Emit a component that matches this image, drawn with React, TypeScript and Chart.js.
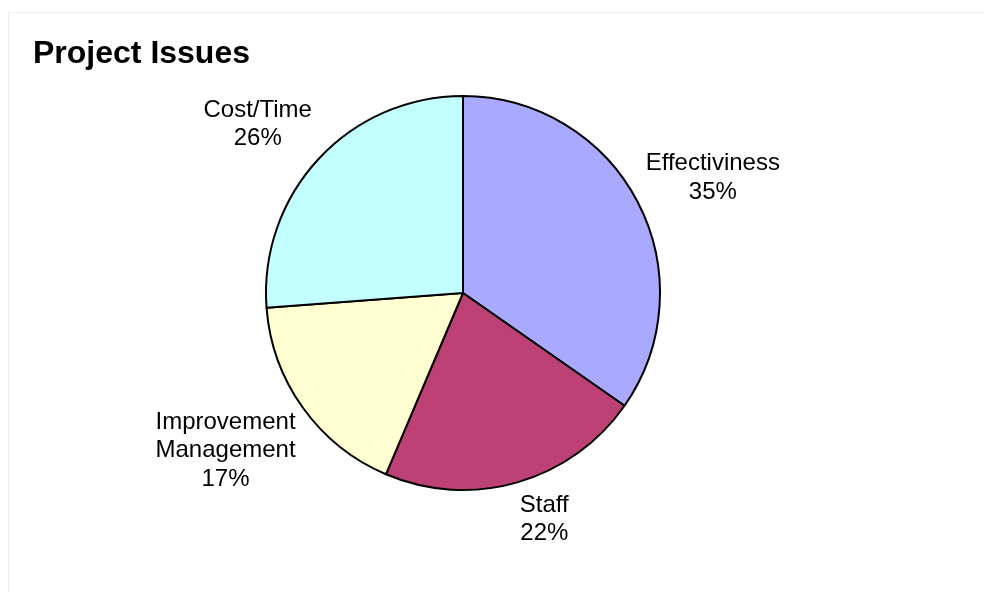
import React, { useEffect, useRef } from "react";
import Chart from "chart.js/auto";

const categories: string[][] = [["Effectiviness"], ["Staff"], ["Improvement", "Management"], ["Cost/Time"]];
const values: number[] = [34.7, 21.7, 17.4, 26.2];
const colors: string[] = ["#a9a9ff", "#be4176", "#ffffd2", "#c4ffff"];
const titleText = "Project Issues";

const FONT = "'Liberation Sans', Arial, Helvetica, sans-serif";

const outsideLabels = {
  id: "outsideLabels",
  afterDatasetsDraw(chart: any) {
    const ctx = chart.ctx;
    const meta = chart.getDatasetMeta(0);
    const total = values.reduce((a, b) => a + b, 0);
    const fontSize = 24;
    const lineH = 28.5;
    const gap = 9;
    ctx.save();
    ctx.font = `${fontSize}px ${FONT}`;
    ctx.fillStyle = "#000";
    ctx.textAlign = "center";
    ctx.textBaseline = "middle";
    meta.data.forEach((arc: any, i: number) => {
      const { x, y, startAngle, endAngle, outerRadius } = arc.getProps(
        ["x", "y", "startAngle", "endAngle", "outerRadius"],
        true
      );
      const mid = (startAngle + endAngle) / 2;
      const dx = Math.cos(mid);
      const dy = Math.sin(mid);
      const pct = Math.round((values[i] / total) * 100) + "%";
      const lines = [...categories[i], pct];
      const w = Math.max(...lines.map((l) => ctx.measureText(l).width));
      const h = lines.length * lineH;
      const ax = x + dx * (outerRadius + gap);
      const ay = y + dy * (outerRadius + gap);
      const cx = ax + Math.sign(dx) * (w / 2);
      const cy = ay + Math.sign(dy) * (h / 2) * Math.min(1, Math.abs(dy) * 1.5);
      lines.forEach((l, k) => {
        ctx.fillText(l, cx, cy - h / 2 + lineH * (k + 0.5));
      });
    });
    ctx.restore();
  },
};

export default function App() {
  const ref = useRef<HTMLCanvasElement | null>(null);
  useEffect(() => {
    if (!ref.current) return;
    const chart = new Chart(ref.current, {
      type: "pie",
      data: {
        labels: categories.map((c) => c.join(" ")),
        datasets: [
          {
            data: values,
            backgroundColor: colors,
            borderColor: "#000",
            borderWidth: 2,
          },
        ],
      },
      options: {
        animation: false,
        responsive: false,
        maintainAspectRatio: false,
        layout: { padding: { left: 33, right: 91, top: 0, bottom: 101 } },
        plugins: {
          legend: { display: false },
          tooltip: { enabled: false },
          title: {
            display: true,
            text: titleText,
            align: "start",
            color: "#000",
            font: { family: FONT, size: 32, weight: "bold", lineHeight: 1.2 },
            padding: { top: 35, bottom: 21.6 },
          },
        },
      },
      plugins: [outsideLabels],
    });
    return () => chart.destroy();
  }, []);
  return (
    <>
      <div
        style={{
          position: "fixed",
          left: 8,
          top: 12,
          width: 2000,
          height: 2000,
          border: "1px solid #ececec",
          background: "#fff",
        }}
      />
      <canvas
        ref={ref}
        width={984}
        height={592}
        style={{ position: "fixed", left: 0, top: 0, width: 984, height: 592 }}
      />
    </>
  );
}
